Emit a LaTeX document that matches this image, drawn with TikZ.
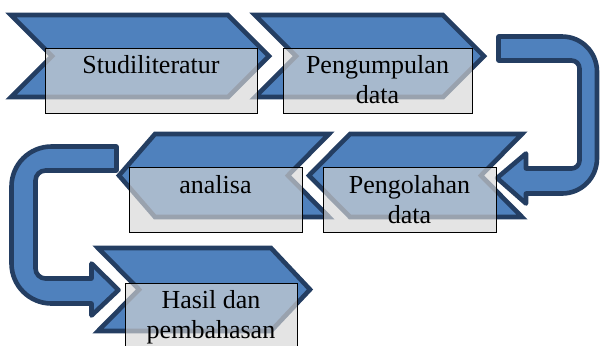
\documentclass[tikz,border=0pt]{standalone}
\usepackage{fontspec}
\setmainfont{Liberation Serif}
\newfontfamily\lblfont{Liberation Serif}
\usepackage{xcolor}
\usetikzlibrary{positioning}

\definecolor{chevfill}{RGB}{79,129,189}
\definecolor{chevline}{RGB}{36,62,98}
\definecolor{boxgray}{RGB}{214,214,214}

\begin{document}
\begin{tikzpicture}[x=0.5pt, y=-0.5pt,
    chev/.style={fill=chevfill, draw=chevline, line width=2.3pt, line join=miter},
    uarrow/.style={fill=chevfill, draw=chevline, line width=2.3pt, line join=round},
    txtbox/.style={draw=black, line width=0.5pt, fill=boxgray, fill opacity=0.66, draw opacity=1, minimum height=32.5pt, inner sep=0pt},
    lbl/.style={align=center, inner sep=0pt, text=black, font=\lblfont\fontsize{13}{15}\selectfont}]
      \useasboundingbox (0,0) rectangle (600,345);
      \clip (0,0) rectangle (600,345);

      % u-turn arrows
      \draw[uarrow] (498.5,36.5) -- (562,36.5) arc[start angle=-90, end angle=0, radius=35]
                    -- (597,158.5) arc[start angle=0, end angle=90, radius=35]
                    -- (526,193.5) -- (526,203.5) -- (497,178) -- (526,153.5) -- (526,168.5)
                    -- (571.5,168.5) arc[start angle=90, end angle=0, radius=8]
                    -- (579.5,68.5) arc[start angle=0, end angle=-90, radius=8]
                    -- (498.5,60.5) -- cycle;
      \draw[uarrow] (116.5,146.5) -- (51.5,146.5) arc[start angle=-90, end angle=-180, radius=40]
                    -- (11.5,263.5) arc[start angle=180, end angle=90, radius=40]
                    -- (91.5,303.5) -- (91.5,315.5) -- (118.5,290) -- (91.5,263.5) -- (91.5,278.5)
                    -- (45.5,278.5) arc[start angle=90, end angle=180, radius=10]
                    -- (35.5,180.5) arc[start angle=180, end angle=270, radius=10]
                    -- (116.5,170.5) -- cycle;

      % chevrons
      \draw[chev] (11,15)  -- (228,15)  -- (269,56)    -- (228,97)  -- (11,97)  -- (52,56)    -- cycle;
      \draw[chev] (255,15) -- (443,15)  -- (484,56)    -- (443,97)  -- (255,97) -- (296,56)   -- cycle;
      \draw[chev] (350,134) -- (522,134) -- (481,175.5) -- (522,217) -- (350,217) -- (309,175.5) -- cycle;
      \draw[chev] (155,134) -- (329,134) -- (288,175.5) -- (329,217) -- (155,217) -- (119,175.5) -- cycle;
      \draw[chev] (98,248)  -- (271,248) -- (310,289.5) -- (271,331) -- (98,331)  -- (139,289.5) -- cycle;

      % text boxes
      \node[txtbox, minimum width=106pt]  (S)  at (151,80.5)   {};
      \node[txtbox, minimum width=94.5pt] (PD) at (377.5,80.5) {};
      \node[txtbox, minimum width=86.5pt] (PO) at (409.5,200)  {};
      \node[txtbox, minimum width=86.5pt] (A)  at (215.5,200)  {};
      \node[txtbox, minimum width=86pt]   (H)  at (211,315.5)  {};

      \node[lbl, below=4pt of S.north]  (Slbl)  {Studiliteratur};
      \node[lbl, below=4pt of PD.north] (PDlbl) {Pengumpulan \\ data};
      \node[lbl, below=4pt of PO.north] (POlbl) {Pengolahan \\ data};
      \node[lbl, below=4pt of A.north]  (Albl)  {analisa};
      \node[lbl, below=4pt of H.north]  (Hlbl)  {Hasil dan \\ pembahasan};
    \end{tikzpicture}
\end{document}
